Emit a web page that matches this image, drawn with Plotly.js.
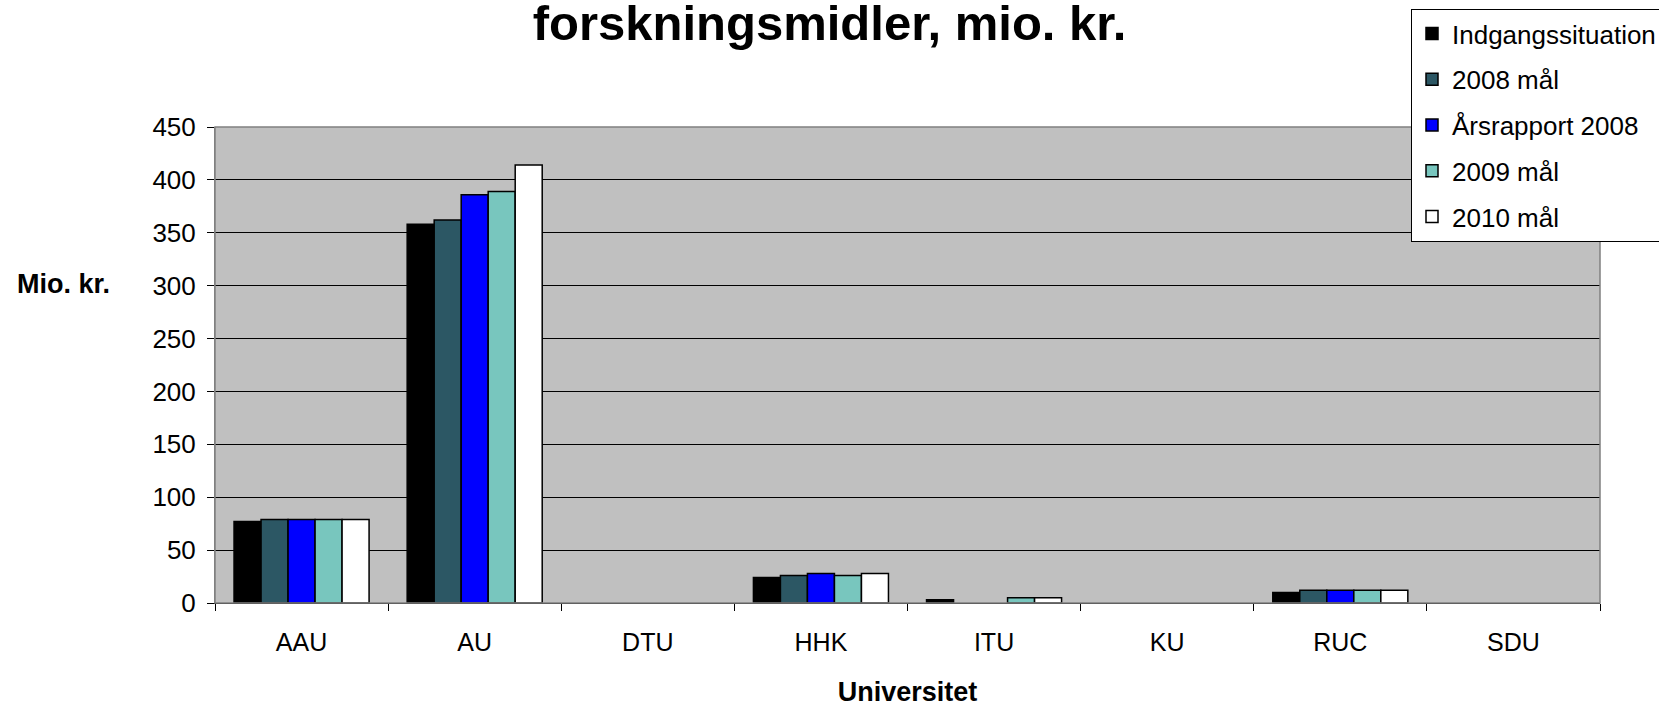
<!DOCTYPE html>
<html>
<head>
<meta charset="utf-8">
<script src="https://cdn.plot.ly/plotly-3.0.1.min.js"></script>
<style>html,body{margin:0;padding:0;background:#fff;}#chart{width:1659px;height:707px;}</style>
</head>
<body>
<div id="chart"></div>
<script>
const categories = ['AAU', 'AU', 'DTU', 'HHK', 'ITU', 'KU', 'RUC', 'SDU'];
const seriesNames = ['Indgangssituation', '2008 mål', 'Årsrapport 2008', '2009 mål', '2010 mål'];
const indgangssituation = [77, 358, null, 24, 3, null, 10, null];
const maal2008 = [79, 362, null, 26, null, null, 12, null];
const aarsrapport2008 = [79, 386, null, 28, null, null, 12, null];
const maal2009 = [79, 389, null, 26, 5, null, 12, null];
const maal2010 = [79, 414, null, 28, 5, null, 12, null];
const yTicks = [0, 50, 100, 150, 200, 250, 300, 350, 400, 450];

const values = [indgangssituation, maal2008, aarsrapport2008, maal2009, maal2010];
const colors = ['#000000', '#2C5764', '#0000FF', '#78C6BE', '#FFFFFF'];
const FONT = 'Liberation Sans, Arial, sans-serif';

const W = 1659, H = 707;
const L = 215, R = 1600, T = 127, B = 603;
const PW = R - L, PH = B - T;

const traces = values.map((v, i) => ({
  type: 'bar',
  name: seriesNames[i],
  x: categories,
  y: v,
  legendgroup: 'g' + i,
  marker: {color: colors[i], line: {color: '#000000', width: 1.5}},
  hoverinfo: 'x+y+name'
}));

const layout = {
  width: W,
  height: H,
  paper_bgcolor: '#FFFFFF',
  plot_bgcolor: '#C0C0C0',
  margin: {l: L, r: W - R, t: T, b: H - B, autoexpand: false},
  barmode: 'group',
  bargap: 0.22,
  bargroupgap: 0,
  showlegend: true,
  title: {
    text: 'forskningsmidler, mio. kr.',
    font: {family: FONT, size: 49, color: '#000000', weight: 'bold'},
    x: 0.5, xref: 'container', xanchor: 'center',
    y: 0.968, yref: 'container', yanchor: 'middle'
  },
  xaxis: {
    type: 'category',
    range: [-0.5, 7.5],
    tickson: 'boundaries',
    ticks: 'outside',
    ticklen: 7,
    tickcolor: '#000000',
    showline: true,
    linecolor: '#000000',
    linewidth: 1,
    showgrid: false,
    tickfont: {family: FONT, size: 25, color: '#000000'},
    ticklabelstandoff: 17,
    title: {text: '<b>Universitet</b>', font: {family: FONT, size: 27, color: '#000000'}, standoff: 41},
    fixedrange: true
  },
  yaxis: {
    range: [0, 450],
    tickvals: yTicks,
    ticktext: yTicks.map(String),
    ticks: 'outside',
    ticklen: 7,
    tickcolor: '#000000',
    showline: true,
    linecolor: '#808080',
    linewidth: 1,
    showgrid: true,
    gridcolor: '#000000',
    gridwidth: 1,
    zeroline: false,
    tickfont: {family: FONT, size: 26, color: '#000000'},
    ticklabelstandoff: 6,
    fixedrange: true
  },
  shapes: [{
    type: 'rect', xref: 'paper', yref: 'paper', x0: 0, x1: 1, y0: 0, y1: 1,
    line: {color: '#808080', width: 1.5}, fillcolor: 'rgba(0,0,0,0)', layer: 'above'
  }],
  annotations: [{
    text: '<b>Mio. kr.</b>',
    xref: 'paper', yref: 'paper',
    x: (63 - L) / PW, y: (B - 284) / PH,
    xanchor: 'center', yanchor: 'middle',
    showarrow: false,
    font: {family: FONT, size: 27, color: '#000000'}
  }],
  legend: {
    xref: 'container', yref: 'container',
    x: 1411 / W, xanchor: 'left',
    y: 1 - 9 / H, yanchor: 'top',
    bgcolor: '#FFFFFF',
    bordercolor: '#000000',
    borderwidth: 1,
    font: {family: FONT, size: 26, color: '#000000'},
    traceorder: 'grouped',
    tracegroupgap: 9,
    itemwidth: 30
  }
};

Plotly.newPlot('chart', traces, layout, {displayModeBar: false, staticPlot: true});
</script>
</body>
</html>
